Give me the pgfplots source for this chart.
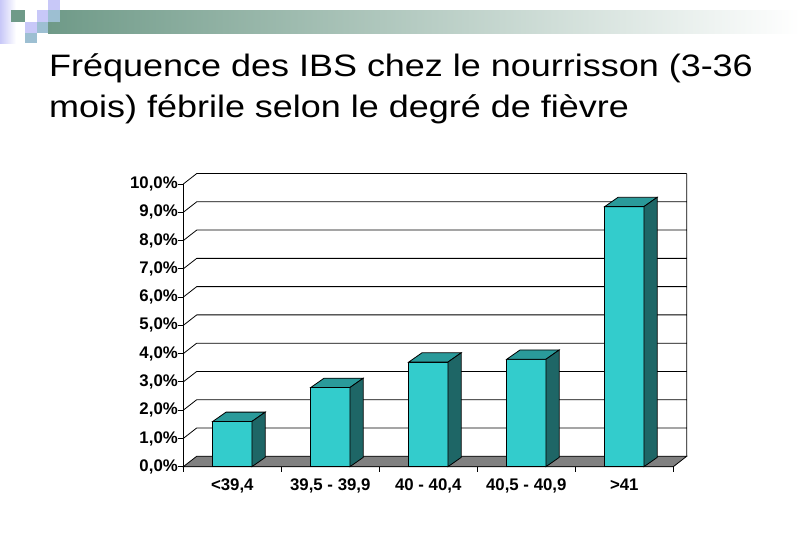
\documentclass[border=0pt]{standalone}
\usepackage{fontspec}
\setmainfont{Liberation Sans}
\usepackage{pgfplots}
\pgfplotsset{compat=1.18}

\definecolor{barfront}{HTML}{33CCCC}
\definecolor{bartop}{HTML}{2A9A9A}
\definecolor{barside}{HTML}{1E6666}
\definecolor{floorgray}{HTML}{808080}
\definecolor{bandgreen}{HTML}{6F9A88}
\definecolor{lav}{HTML}{C8C8F8}
\definecolor{steel}{HTML}{9DBFD2}

\begin{document}
\begin{tikzpicture}
\path[use as bounding box, fill=white] (0,0) rectangle (810bp,-540bp);

% slide decoration, top left
\shade[left color=lav, right color=white] (0,0) rectangle (16bp,-43bp);
\shade[left color=bandgreen, right color=white] (48bp,-10bp) rectangle (800bp,-33bp);
\fill[bandgreen] (11bp,-10bp) rectangle (25bp,-22bp);
\fill[lav] (37bp,-10bp) rectangle (48bp,-22bp);
\fill[lav] (48bp,0) rectangle (60bp,-10bp);
\fill[steel] (48bp,-10bp) rectangle (60bp,-22bp);
\fill[lav] (25bp,-22bp) rectangle (37bp,-33bp);
\fill[steel] (37bp,-22bp) rectangle (48bp,-33bp);
\fill[steel] (25bp,-33bp) rectangle (37bp,-43bp);

% title (slide is stretched horizontally)
\node[anchor=base west, inner sep=0pt, xscale=1.16, font=\fontsize{31bp}{36bp}\selectfont]
  at (49bp,-76.7bp) {Fréquence des IBS chez le nourrisson (3-36};
\node[anchor=base west, inner sep=0pt, xscale=1.16, font=\fontsize{31bp}{36bp}\selectfont]
  at (49bp,-117.5bp) {mois) fébrile selon le degré de fièvre};

\begin{axis}[
    at={(183.3bp,-466.7bp)}, anchor=south west,
    scale only axis, width=490bp, height=282.7bp,
    xmin=0, xmax=5, ymin=0, ymax=10,
    clip=false,
    axis x line*=bottom, axis y line*=left,
    axis line style={black, line width=0.8pt},
    ytick={0,1,2,3,4,5,6,7,8,9,10},
    yticklabels={{0,0\%},{1,0\%},{2,0\%},{3,0\%},{4,0\%},{5,0\%},
                 {6,0\%},{7,0\%},{8,0\%},{9,0\%},{10,0\%}},
    xtick={0,1,2,3,4,5},
    xticklabels={},
    extra x ticks={0.5,1.5,2.5,3.5,4.5},
    extra x tick labels={{<39,4},{39,5 - 39,9},{40 - 40,4},{40,5 - 40,9},{>41}},
    extra x tick style={major tick length=0pt, xticklabel style={yshift=-9bp}},
    tick align=outside,
    major tick length=5bp,
    tick style={black, line width=0.8pt},
    ticklabel style={font=\bfseries\fontsize{16.8bp}{18bp}\selectfont},
    yticklabel style={xshift=3bp},
]

% floor
\addplot[draw=black, fill=floorgray, line width=0.8pt]
  coordinates {(0,0) (5,0) (5.137,0.37) (0.137,0.37)} -- cycle;

% side edges and back wall grid
\addplot[black, line width=0.8pt, unbounded coords=jump] coordinates {
  (0,1) (0.137,1.37) (5.137,1.37) (0,nan)
  (0,2) (0.137,2.37) (5.137,2.37) (0,nan)
  (0,3) (0.137,3.37) (5.137,3.37) (0,nan)
  (0,4) (0.137,4.37) (5.137,4.37) (0,nan)
  (0,5) (0.137,5.37) (5.137,5.37) (0,nan)
  (0,6) (0.137,6.37) (5.137,6.37) (0,nan)
  (0,7) (0.137,7.37) (5.137,7.37) (0,nan)
  (0,8) (0.137,8.37) (5.137,8.37) (0,nan)
  (0,9) (0.137,9.37) (5.137,9.37) (0,nan)
  (0,10) (0.137,10.37) (5.137,10.37) (0,nan)
  (5.137,0.37) (5.137,10.37)
};

% bars: <39,4 = 1.6 %
\addplot[draw=black, fill=barfront, line width=0.8pt]
  coordinates {(0.3,0) (0.7,0) (0.7,1.6) (0.3,1.6)} -- cycle;
\addplot[draw=black, fill=bartop, line width=0.8pt]
  coordinates {(0.3,1.6) (0.7,1.6) (0.836,1.93) (0.436,1.93)} -- cycle;
\addplot[draw=black, fill=barside, line width=0.8pt]
  coordinates {(0.7,0) (0.836,0.33) (0.836,1.93) (0.7,1.6)} -- cycle;

% 39,5 - 39,9 = 2.8 %
\addplot[draw=black, fill=barfront, line width=0.8pt]
  coordinates {(1.3,0) (1.7,0) (1.7,2.8) (1.3,2.8)} -- cycle;
\addplot[draw=black, fill=bartop, line width=0.8pt]
  coordinates {(1.3,2.8) (1.7,2.8) (1.836,3.13) (1.436,3.13)} -- cycle;
\addplot[draw=black, fill=barside, line width=0.8pt]
  coordinates {(1.7,0) (1.836,0.33) (1.836,3.13) (1.7,2.8)} -- cycle;

% 40 - 40,4 = 3.7 %
\addplot[draw=black, fill=barfront, line width=0.8pt]
  coordinates {(2.3,0) (2.7,0) (2.7,3.7) (2.3,3.7)} -- cycle;
\addplot[draw=black, fill=bartop, line width=0.8pt]
  coordinates {(2.3,3.7) (2.7,3.7) (2.836,4.03) (2.436,4.03)} -- cycle;
\addplot[draw=black, fill=barside, line width=0.8pt]
  coordinates {(2.7,0) (2.836,0.33) (2.836,4.03) (2.7,3.7)} -- cycle;

% 40,5 - 40,9 = 3.8 %
\addplot[draw=black, fill=barfront, line width=0.8pt]
  coordinates {(3.3,0) (3.7,0) (3.7,3.8) (3.3,3.8)} -- cycle;
\addplot[draw=black, fill=bartop, line width=0.8pt]
  coordinates {(3.3,3.8) (3.7,3.8) (3.836,4.13) (3.436,4.13)} -- cycle;
\addplot[draw=black, fill=barside, line width=0.8pt]
  coordinates {(3.7,0) (3.836,0.33) (3.836,4.13) (3.7,3.8)} -- cycle;

% >41 = 9.2 %
\addplot[draw=black, fill=barfront, line width=0.8pt]
  coordinates {(4.3,0) (4.7,0) (4.7,9.2) (4.3,9.2)} -- cycle;
\addplot[draw=black, fill=bartop, line width=0.8pt]
  coordinates {(4.3,9.2) (4.7,9.2) (4.836,9.53) (4.436,9.53)} -- cycle;
\addplot[draw=black, fill=barside, line width=0.8pt]
  coordinates {(4.7,0) (4.836,0.33) (4.836,9.53) (4.7,9.2)} -- cycle;

\end{axis}
\end{tikzpicture}
\end{document}
